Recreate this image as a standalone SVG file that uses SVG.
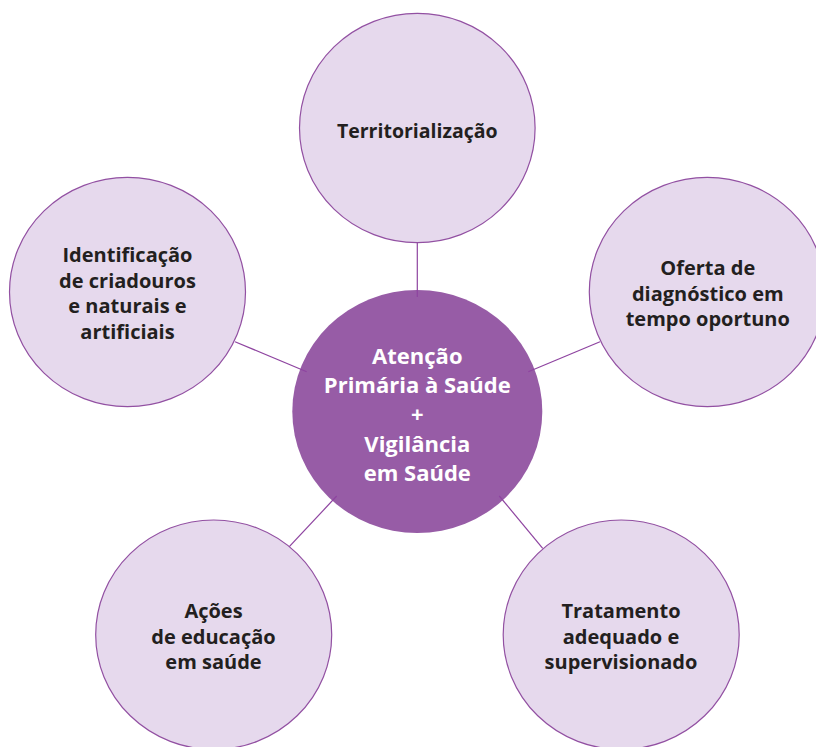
<svg xmlns="http://www.w3.org/2000/svg" width="816" height="747" viewBox="0 0 816 747">
<style>
.leaf{fill:#e6d9ed;stroke:#9250a2;stroke-width:1.2}
.hub{fill:#975ca6}
.lt{font-family:"Open Sans","Noto Sans",sans-serif;font-weight:700;font-size:20px;fill:#231f20;text-anchor:middle}
.ht{font-family:"Open Sans","Noto Sans",sans-serif;font-weight:700;font-size:22px;fill:#ffffff;text-anchor:middle}
.conn{stroke:#8e44a0;stroke-width:1.2;fill:none}
</style>
<rect width="816" height="747" fill="#ffffff"/>
<g id="n-top"><ellipse class="leaf" cx="417.3" cy="128" rx="117.8" ry="114.7"/>
<text class="lt" x="417.3" y="137.5" style="font-size:19.5px">Territorialização</text></g>
<g id="n-left"><ellipse class="leaf" cx="127.5" cy="292" rx="118" ry="114.7"/>
<text class="lt"><tspan x="127.5" y="262">Identificação</tspan><tspan x="127.5" y="288">de criadouros</tspan><tspan x="127.5" y="313">e naturais e</tspan><tspan x="127.5" y="338.5">artificiais</tspan></text></g>
<g id="n-right"><ellipse class="leaf" cx="707.3" cy="292" rx="118" ry="114.7"/>
<text class="lt"><tspan x="707.8" y="275">Oferta de</tspan><tspan x="707.8" y="300.5">diagnóstico em</tspan><tspan x="707.8" y="326">tempo oportuno</tspan></text></g>
<g id="n-botleft"><ellipse class="leaf" cx="213.7" cy="634.7" rx="118" ry="114.7"/>
<text class="lt"><tspan x="213.5" y="617.5">Ações</tspan><tspan x="213.5" y="643.5">de educação</tspan><tspan x="213.5" y="668.5">em saúde</tspan></text></g>
<g id="n-botright"><ellipse class="leaf" cx="621.2" cy="634.7" rx="118" ry="114.7"/>
<text class="lt"><tspan x="621" y="617.5">Tratamento</tspan><tspan x="621" y="643.5">adequado e</tspan><tspan x="621" y="668.5">supervisionado</tspan></text></g>
<g id="n-hub"><ellipse class="hub" cx="417.3" cy="411.5" rx="125" ry="121.5"/></g>
<g id="connectors">
<line class="conn" x1="417.3" y1="242.7" x2="417.3" y2="297"/>
<line class="conn" x1="235" y1="341.7" x2="306.7" y2="371.7"/>
<line class="conn" x1="600" y1="341.7" x2="528.3" y2="371.7"/>
<line class="conn" x1="289.3" y1="546.7" x2="336.7" y2="496"/>
<line class="conn" x1="542.7" y1="548.3" x2="499.3" y2="496"/>
</g>
<g id="hub-label">
<text class="ht"><tspan x="417.3" y="363.5">Atenção</tspan><tspan x="417.3" y="393">Primária à Saúde</tspan><tspan x="417.3" y="422">+</tspan><tspan x="417.3" y="451.5">Vigilância</tspan><tspan x="417.3" y="481">em Saúde</tspan></text>
</g>
</svg>
